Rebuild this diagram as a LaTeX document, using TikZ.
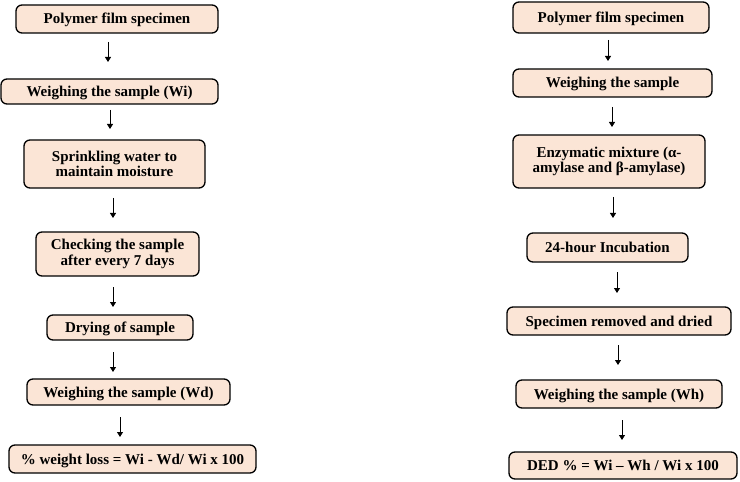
\documentclass[tikz,border=0pt]{standalone}
\usepackage{fontspec}
\setmainfont{Liberation Serif}
\usetikzlibrary{arrows.meta}
\begin{document}
\begin{tikzpicture}[x=1bp,y=-1bp,
  stepbox/.style={draw=black,line width=1.3bp,rounded corners=6bp,fill=boxfill,
    inner sep=0pt,outer sep=0pt,align=center,
    font=\fontsize{15bp}{15.5bp}\selectfont\bfseries},
  oneline/.style={stepbox,text height=11bp,text depth=1bp},
  arr/.style={line width=0.8bp,-{Triangle[length=5bp,width=6bp]}}]
\definecolor{boxfill}{HTML}{FBE5D6}
\useasboundingbox (0,0) rectangle (740,482);
% left column
\node[oneline,minimum width=202bp,minimum height=28bp] (L1) at (117,19) {Polymer film specimen};
\node[oneline,minimum width=217bp,minimum height=25bp] (L2) at (109.5,91.5) {Weighing the sample (Wi)};
\node[stepbox,minimum width=181bp,minimum height=48bp] (L3) at (114.5,164) {Sprinkling water to\\maintain moisture};
\node[stepbox,minimum width=163bp,minimum height=44bp] (L4) at (117.5,254) {Checking the sample\\after every 7 days};
\node[oneline,minimum width=146bp,minimum height=25bp] (L5) at (120,327.5) {Drying of sample};
\node[oneline,minimum width=203bp,minimum height=26bp] (L6) at (128.5,392) {Weighing the sample (Wd)};
\node[oneline,minimum width=247bp,minimum height=28bp] (L7) at (132.5,459) {\% weight loss = Wi - Wd/ Wi x 100};
% right column
\node[oneline,minimum width=196bp,minimum height=31bp] (R1) at (611,17.5) {Polymer film specimen};
\node[oneline,minimum width=199bp,minimum height=28bp] (R2) at (612.5,83) {Weighing the sample};
\node[stepbox,minimum width=192bp,minimum height=53bp] (R3) at (609,161.5) {Enzymatic mixture (α-\\amylase and β-amylase)};
\node[oneline,minimum width=161bp,minimum height=29bp] (R4) at (607.5,247.5) {24-hour Incubation};
\node[oneline,minimum width=224bp,minimum height=28bp] (R5) at (619,321) {Specimen removed and dried};
\node[oneline,minimum width=206bp,minimum height=28bp] (R6) at (619,394) {Weighing the sample (Wh)};
\node[oneline,minimum width=228bp,minimum height=27bp] (R7) at (623,465.5) {DED \% = Wi – Wh / Wi x 100};
% arrow end points
\coordinate (la1) at (108,42);  \coordinate (lb1) at (108,62);
\coordinate (la2) at (110,110); \coordinate (lb2) at (110,129);
\coordinate (la3) at (113,198); \coordinate (lb3) at (113,218);
\coordinate (la4) at (113,287); \coordinate (lb4) at (113,307);
\coordinate (la5) at (113,352); \coordinate (lb5) at (113,372);
\coordinate (la6) at (120,417); \coordinate (lb6) at (120,437);
\coordinate (ra1) at (608,40);  \coordinate (rb1) at (608,61);
\coordinate (ra2) at (612,107); \coordinate (rb2) at (612,127);
\coordinate (ra3) at (613,197); \coordinate (rb3) at (613,218);
\coordinate (ra4) at (617,272); \coordinate (rb4) at (617,293);
\coordinate (ra5) at (618,345); \coordinate (rb5) at (618,365);
\coordinate (ra6) at (622,420); \coordinate (rb6) at (622,440);
\foreach \i in {1,...,6} {
  \draw[arr] (la\i) -- (lb\i);
  \draw[arr] (ra\i) -- (rb\i);
}
\end{tikzpicture}
\end{document}
